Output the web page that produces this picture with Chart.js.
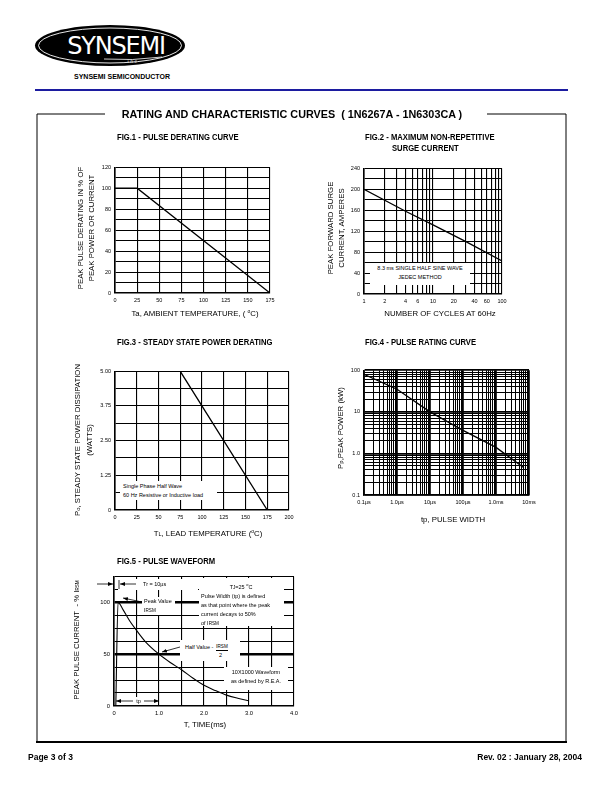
<!DOCTYPE html>
<html><head><meta charset="utf-8">
<script src="https://cdn.jsdelivr.net/npm/chart.js@4.4.1/dist/chart.umd.min.js"></script>
<style>
body{margin:0;width:612px;height:792px;position:relative;background:#fff;font-family:"Liberation Sans",Arial,sans-serif;overflow:hidden;color:#000}
#charts canvas{position:absolute;z-index:1}
.t{position:absolute;white-space:nowrap;z-index:2}
.c{transform:translate(-50%,-50%)}
.figt{font-weight:bold;font-size:8.5px;transform:scaleX(0.9);transform-origin:0 0;line-height:10px}
.ax{font-size:7.8px}
.yax{position:absolute;z-index:2;font-size:7.8px;white-space:nowrap;transform:translate(-50%,-50%) rotate(-90deg);text-align:center;line-height:11px}
.note{position:absolute;z-index:3;background:#fff;font-size:5.5px;line-height:9px;white-space:nowrap}
.sm{font-size:4.6px}
svg.ov{position:absolute;left:0;top:0;z-index:4}
</style></head>
<body>
<!-- Logo -->
<svg class="ov" width="612" height="100" style="z-index:2">
  <ellipse cx="110" cy="45.5" rx="75" ry="20.5" fill="#000"/>
  <ellipse cx="110" cy="45.5" rx="71.5" ry="17.5" fill="none" stroke="#fff" stroke-width="0.9"/>
  <text x="116" y="54" fill="#fff" font-family="DejaVu Sans, sans-serif" font-size="24" text-anchor="middle" letter-spacing="-1.2">SYNSEMI</text>
  <path d="M104 59 Q132 61 162 57" stroke="#fff" stroke-width="0.8" fill="none"/>
  <text x="133" y="62.5" fill="#fff" font-family="DejaVu Sans, sans-serif" font-size="4.5" text-anchor="middle" letter-spacing="1.5">inc</text>
  <text x="122" y="79" fill="#000" font-family="Liberation Sans, Arial, sans-serif" font-weight="bold" font-size="7" text-anchor="middle">SYNSEMI SEMICONDUCTOR</text>
  <rect x="35" y="89" width="533" height="2" fill="#1c1ca0"/>
</svg>

<div id="charts"></div>

<!-- frame -->
<svg class="ov" width="612" height="792" style="z-index:2">
  <line x1="37" y1="114" x2="105" y2="114" stroke="#000" stroke-width="1"/>
  <line x1="487" y1="114" x2="566" y2="114" stroke="#000" stroke-width="1"/>
  <line x1="37" y1="114" x2="37" y2="742" stroke="#000" stroke-width="1"/>
  <line x1="566" y1="114" x2="566" y2="742" stroke="#000" stroke-width="1"/>
  <line x1="36" y1="742" x2="567" y2="742" stroke="#000" stroke-width="2"/>
</svg>
<div class="t c" style="left:292px;top:114px;font-weight:bold;font-size:10.8px">RATING AND CHARACTERISTIC CURVES&nbsp; ( 1N6267A - 1N6303CA )</div>

<!-- figure titles -->
<div class="t figt" style="left:117px;top:132px">FIG.1 - PULSE DERATING CURVE</div>
<div class="t figt" style="left:365px;top:132px">FIG.2 - MAXIMUM NON-REPETITIVE</div>
<div class="t figt" style="left:392px;top:143px">SURGE CURRENT</div>
<div class="t figt" style="left:117px;top:337px">FIG.3 - STEADY STATE POWER DERATING</div>
<div class="t figt" style="left:365px;top:337px">FIG.4 - PULSE RATING CURVE</div>
<div class="t figt" style="left:117px;top:556px">FIG.5 - PULSE WAVEFORM</div>

<!-- axis titles -->
<div class="yax" style="left:85.5px;top:228px">PEAK PULSE DERATING IN % OF<br>PEAK POWER OR CURRENT</div>
<div class="t c ax" style="left:195px;top:313px">Ta, AMBIENT TEMPERATURE, ( <sup style="font-size:5px">o</sup>C)</div>
<div class="yax" style="left:335.5px;top:228px">PEAK FORWARD SURGE<br>CURRENT, AMPERES</div>
<div class="t c ax" style="left:440px;top:313px">NUMBER OF CYCLES AT 60Hz</div>
<div class="yax" style="left:84px;top:440px;line-height:12px">P<span style="font-size:6px">o</span>, STEADY STATE POWER DISSIPATION<br>(WATTS)</div>
<div class="t c ax" style="left:208px;top:533px">T<span style="font-size:5.5px">L</span>, LEAD TEMPERATURE (<sup style="font-size:5px">o</sup>C)</div>
<div class="yax" style="left:341px;top:428px">P<span style="font-size:6px">p</span>,PEAK POWER (kW)</div>
<div class="t c ax" style="left:453px;top:519px">tp, PULSE WIDTH</div>
<div class="yax" style="left:77px;top:640px">PEAK PULSE CURRENT&nbsp; - % I<span class="sm">RSM</span></div>
<div class="t c ax" style="left:205px;top:724px">T, TIME(ms)</div>

<!-- notes -->
<div class="note" style="left:370px;top:263px;width:100px;height:21px;text-align:center;line-height:9px;padding-top:1px">8.3 ms SINGLE HALF SINE WAVE<br>JEDEC METHOD</div>
<div class="note" style="left:120px;top:481px;width:94px;height:18px;padding-left:3px;padding-top:1px;line-height:8.5px">Single Phase Half Wave<br>60 Hz Resistive or Inductive load</div>

<div class="note" style="left:118px;top:579px;width:80px;height:11px;"><span style="position:absolute;left:25px;top:1px">Tr = 10µs</span></div>
<div class="note" style="left:199px;top:578px;width:83px;height:46px;padding-left:2px;padding-top:2px">
  <div style="text-align:center;width:80px">T<span class="sm">J</span>=25 <sup style="font-size:4px">o</sup>C</div>
  Pulse Width (tp) is defined<br>as that point where the peak<br>current decays to 50%<br>of I<span class="sm">RSM</span></div>
<div class="note" style="left:142px;top:597px;width:31px;height:18px;padding-left:2px">Peak Value<br>I<span class="sm">RSM</span></div>
<div class="note" style="left:180px;top:640px;width:55px;height:21px;padding-left:5px;line-height:8px">
  <span style="position:absolute;left:5px;top:3px">Half Value -</span>
  <span style="position:absolute;left:36px;top:3px;border-bottom:0.8px solid #000;line-height:7px">I<span class="sm">RSM</span></span>
  <span style="position:absolute;left:39px;top:11px">2</span></div>
<div class="note" style="left:224px;top:667px;width:64px;height:22px;text-align:center;padding-top:1px">10X1000 Waveform<br>as defined by R.E.A.</div>
<div class="note" style="left:134px;top:697px;width:9px;height:8px;text-align:center;line-height:8px">tp</div>

<!-- arrows -->
<svg class="ov" width="612" height="792">
  <defs>
    <marker id="ah" markerUnits="userSpaceOnUse" markerWidth="5" markerHeight="4" refX="5" refY="2" orient="auto">
      <polygon points="0,0 5,2 0,4" fill="#000"/>
    </marker>
  </defs>
  <g stroke="#000" stroke-width="0.8" fill="none">
    <line x1="97" y1="584" x2="113" y2="584" marker-end="url(#ah)"/>
    <line x1="119" y1="580" x2="119" y2="589"/>
    <line x1="136" y1="584" x2="120" y2="584" marker-end="url(#ah)"/>
    <line x1="142" y1="602" x2="123" y2="598" marker-end="url(#ah)"/>
    <line x1="180" y1="647" x2="162" y2="652" marker-end="url(#ah)"/>
    <line x1="133" y1="701" x2="116" y2="701" marker-end="url(#ah)"/>
    <line x1="144" y1="701" x2="159" y2="701" marker-end="url(#ah)"/>
  </g>
</svg>

<div class="t" style="left:28px;top:752px;font-weight:bold;font-size:8.5px">Page 3 of 3</div>
<div class="t" style="right:30px;top:752px;font-weight:bold;font-size:8.5px">Rev. 02 : January 28, 2004</div>

<script>
// ---------------- DATA ----------------
// Fig.1 pulse derating
const fig1Temp = [0, 25, 175];
const fig1Pct  = [100, 100, 0];
const fig1XTicks = [0, 25, 50, 75, 100, 125, 150, 175];
const fig1YTicks = [0, 20, 40, 60, 80, 100, 120];

// Fig.2 surge current
const fig2Cycles = [1, 4, 10, 30, 100];
const fig2Amps   = [200, 158, 132, 100, 63];
const fig2XGrid  = [1,2,3,4,5,6,7,8,9,10,20,30,40,50,60,70,80,90,100];
const fig2XTicks = [1, 2, 4, 6, 10, 20, 40, 60, 100];
const fig2YTicks = [0, 40, 80, 120, 160, 200, 240];

// Fig.3 steady state power derating
const fig3Temp  = [0, 75, 175];
const fig3Watts = [5, 5, 0];
const fig3XTicks = [0, 25, 50, 75, 100, 125, 150, 175, 200];
const fig3YTickValues = [0, 1.25, 2.5, 3.75, 5];
const fig3YTickLabels = ['0', '1.25', '2.50', '3.75', '5.00'];

// Fig.4 pulse rating curve (x in microseconds, y in kW)
const fig4WidthUs = [0.1, 1, 10, 100, 1000, 7000];
const fig4PowerKW = [80, 35, 10, 3.6, 1.4, 0.45];
const fig4XTickValues = [0.1, 1, 10, 100, 1000, 10000];
const fig4XTickLabels = ['0.1µs', '1.0µs', '10µs', '100µs', '1.0ms', '10ms'];
const fig4YTickValues = [0.1, 1, 10, 100];
const fig4YTickLabels = ['0.1', '1.0', '10', '100'];

// Fig.5 pulse waveform (ms, % Irsm)
const fig5Time = [0.04, 0.09, 0.2, 0.35, 0.5, 0.7, 1.0, 1.25, 1.5, 1.75, 2.0, 2.25, 2.5, 2.75, 3.0];
const fig5Pct  = [0, 100, 93, 82, 73, 62, 50, 42, 35, 27, 20, 15, 10.5, 7.5, 5];
const fig5XTickValues = [0, 1, 2, 3, 4];
const fig5XTickLabels = ['0', '1.0', '2.0', '3.0', '4.0'];
const fig5YTicks = [0, 50, 100];
const fig5ThickY = [50, 100];

// ---------------- helpers ----------------
const FONT = '"Liberation Sans", Arial, sans-serif';
const near = (a, b) => Math.abs(a - b) <= 1e-6 * Math.max(1, Math.abs(b));
function labeler(vals, labs) {
  return v => { const i = vals.findIndex(t => near(v, t)); return i < 0 ? '' : (labs ? labs[i] : String(vals[i])); };
}
function decadeGrid(lo, hi) {
  const out = [];
  for (let d = lo; d < hi * 0.999; d *= 10) for (let k = 1; k <= 9; k++) out.push(d * k);
  out.push(hi);
  return out;
}
function axis(extra, tickExtra, gridExtra, fontSize) {
  return Object.assign({
    grid: Object.assign({ color: '#000', lineWidth: 1.1, drawTicks: false }, gridExtra || {}),
    border: { display: true, color: '#000', width: 1.6 },
    ticks: Object.assign({ color: '#000', font: { family: FONT, size: fontSize || 5.5 }, padding: 4,
      autoSkip: false, maxRotation: 0, minRotation: 0 }, tickExtra || {})
  }, extra);
}
function series(xs, ys) {
  return { data: xs.map((x, i) => ({ x, y: ys[i] })), borderColor: '#000', borderWidth: 1.3,
    pointRadius: 0, fill: false, tension: 0 };
}
function addChart(r, scales, ds) {
  const yW = r.yW || 30, xH = r.xH || 18, padT = r.padT || 6, padR = r.padR || 10;
  const W = r.R - r.L + yW + padR, H = r.B - r.T + padT + xH;
  const cv = document.createElement('canvas');
  cv.width = W; cv.height = H;
  cv.style.left = (r.L - yW) + 'px'; cv.style.top = (r.T - padT) + 'px';
  cv.style.width = W + 'px'; cv.style.height = H + 'px';
  document.getElementById('charts').appendChild(cv);
  scales.x.afterFit = s => { s.height = xH; };
  scales.y.afterFit = s => { s.width = yW; };
  return new Chart(cv, {
    type: 'line',
    data: { datasets: ds },
    options: {
      responsive: false, animation: false, events: [],
      layout: { padding: { top: padT, right: padR, left: 0, bottom: 0 } },
      plugins: { legend: { display: false }, tooltip: { enabled: false } },
      scales
    }
  });
}

// ---------------- Fig.1 ----------------
addChart({ L: 115, T: 166, R: 270, B: 293 }, {
  x: axis({ type: 'linear', min: 0, max: 175 }, { stepSize: 25, callback: labeler(fig1XTicks) }),
  y: axis({ type: 'linear', min: 0, max: 120 }, { stepSize: 10, callback: labeler(fig1YTicks) })
}, [series(fig1Temp, fig1Pct)]);

// ---------------- Fig.2 ----------------
addChart({ L: 364, T: 167, R: 502, B: 294 }, {
  x: axis({ type: 'logarithmic', min: 1, max: 100,
    afterBuildTicks: s => { s.ticks = fig2XGrid.map(v => ({ value: v })); } },
    { callback: labeler(fig2XTicks) }),
  y: axis({ type: 'linear', min: 0, max: 240 }, { stepSize: 20, callback: labeler(fig2YTicks) })
}, [series(fig2Cycles, fig2Amps)]);

// ---------------- Fig.3 ----------------
addChart({ L: 115, T: 370, R: 289, B: 510 }, {
  x: axis({ type: 'linear', min: 0, max: 200 }, { stepSize: 25, callback: labeler(fig3XTicks) }),
  y: axis({ type: 'linear', min: 0, max: 5 }, { stepSize: 0.625, callback: labeler(fig3YTickValues, fig3YTickLabels) })
}, [series(fig3Temp, fig3Watts)]);

// ---------------- Fig.4 ----------------
const fig4XGrid = decadeGrid(fig4XTickValues[0], fig4XTickValues[fig4XTickValues.length - 1]);
const fig4YGrid = decadeGrid(fig4YTickValues[0], fig4YTickValues[fig4YTickValues.length - 1]);
const isDec = vals => ctx => (ctx.tick && vals.some(t => near(ctx.tick.value, t))) ? 1.8 : 1;
addChart({ L: 364, T: 369, R: 529, B: 495, padR: 12 }, {
  x: axis({ type: 'logarithmic', min: 0.1, max: 10000,
    afterBuildTicks: s => { s.ticks = fig4XGrid.map(v => ({ value: v })); } },
    { callback: labeler(fig4XTickValues, fig4XTickLabels) }, { lineWidth: isDec(fig4XTickValues) }),
  y: axis({ type: 'logarithmic', min: 0.1, max: 100,
    afterBuildTicks: s => { s.ticks = fig4YGrid.map(v => ({ value: v })); } },
    { callback: labeler(fig4YTickValues, fig4YTickLabels) }, { lineWidth: isDec(fig4YTickValues) })
}, [series(fig4WidthUs, fig4PowerKW)]);

// ---------------- Fig.5 ----------------
const s5 = series(fig5Time, fig5Pct);
s5.cubicInterpolationMode = 'monotone';
s5.borderWidth = 1.1;
addChart({ L: 114, T: 575, R: 294, B: 706 }, {
  x: axis({ type: 'linear', min: 0, max: 4 }, { stepSize: 0.5, callback: labeler(fig5XTickValues, fig5XTickLabels) }, null, 5.8),
  y: axis({ type: 'linear', min: 0, max: 125 }, { stepSize: 12.5, callback: labeler(fig5YTicks) },
    { lineWidth: ctx => (ctx.tick && fig5ThickY.some(t => near(ctx.tick.value, t))) ? 2.6 : 1.1 }, 5.8)
}, [s5]);
</script>
</body></html>
